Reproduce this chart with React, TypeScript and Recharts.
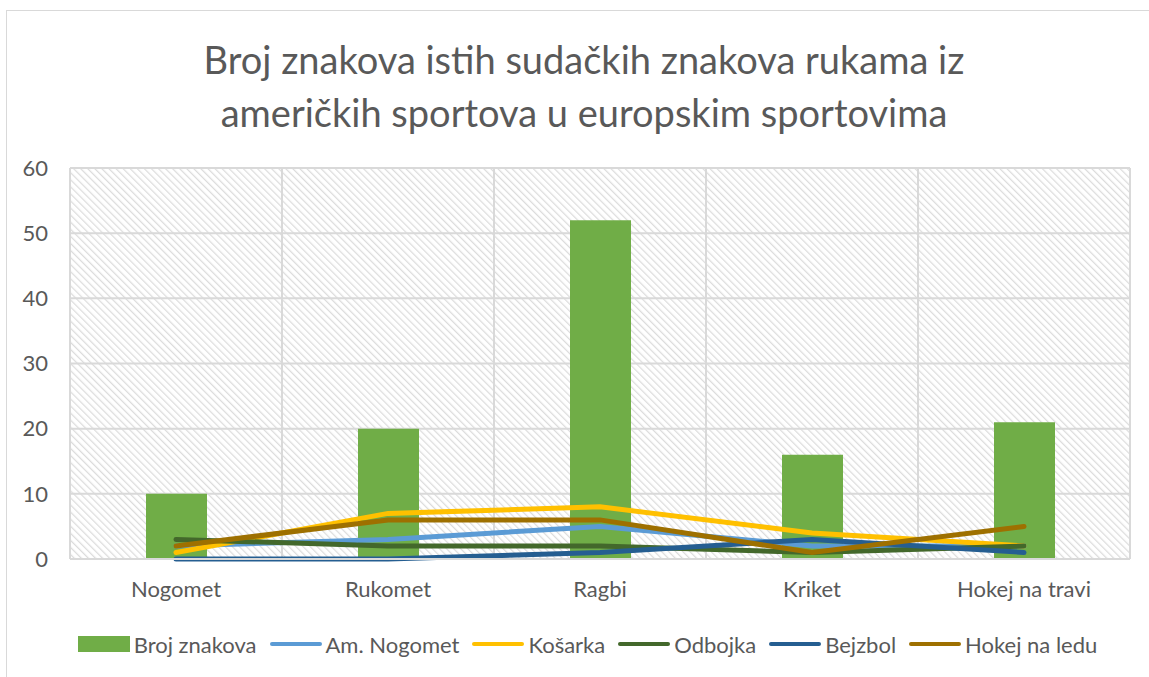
import { ComposedChart, Bar, Line, XAxis, YAxis, CartesianGrid, Legend } from 'recharts';

const categories = ['Nogomet', 'Rukomet', 'Ragbi', 'Kriket', 'Hokej na travi'];
const brojZnakova = [10, 20, 52, 16, 21];
const amNogomet = [2, 3, 5, 2, 2];
const kosarka = [1, 7, 8, 4, 2];
const odbojka = [3, 2, 2, 1, 2];
const bejzbol = [0, 0, 1, 3, 1];
const hokejNaLedu = [2, 6, 6, 1, 5];
const yTicks = [0, 10, 20, 30, 40, 50, 60];

const lineSeries = [
  { key: 'amNogomet', name: 'Am. Nogomet', color: '#5b9bd5' },
  { key: 'kosarka', name: 'Košarka', color: '#ffc000' },
  { key: 'odbojka', name: 'Odbojka', color: '#43682b' },
  { key: 'bejzbol', name: 'Bejzbol', color: '#255e91' },
  { key: 'hokejNaLedu', name: 'Hokej na ledu', color: '#9e7000' },
];

const data = categories.map((name, i) => ({
  name,
  brojZnakova: brojZnakova[i],
  amNogomet: amNogomet[i],
  kosarka: kosarka[i],
  odbojka: odbojka[i],
  bejzbol: bejzbol[i],
  hokejNaLedu: hokejNaLedu[i],
}));

const FONT = 'Lato, "Open Sans", sans-serif';
const TEXT = '#595959';

const renderLegend = () => {
  const items = [{ name: 'Broj znakova', color: '#70ad47', bar: true }, ...lineSeries.map((s) => ({ ...s, bar: false }))];
  return (
    <div
      style={{
        display: 'flex',
        justifyContent: 'center',
        alignItems: 'center',
        fontFamily: FONT,
        fontSize: 22,
        color: TEXT,
        height: 66,
        paddingLeft: 38,
        boxSizing: 'border-box',
      }}
    >
      {items.map((it, i) => (
        <div key={it.name} style={{ display: 'flex', alignItems: 'center', marginRight: i < items.length - 1 ? 13 : 0 }}>
          {it.bar ? (
            <span style={{ width: 52, height: 16, background: it.color, display: 'inline-block', marginRight: 4 }} />
          ) : (
            <span style={{ width: 52, height: 4, borderRadius: 2, background: it.color, display: 'inline-block', marginRight: 4 }} />
          )}
          <span>{it.name}</span>
        </div>
      ))}
    </div>
  );
};

export default function App() {
  return (
    <div style={{ position: 'fixed', left: 0, top: 0, width: 1149, height: 677, overflow: 'hidden', background: '#fff' }}>
      <div
        style={{
          position: 'absolute',
          left: 6,
          top: 10,
          width: 1156,
          height: 680,
          border: '1px solid #d9d9d9',
          boxSizing: 'border-box',
          background: '#fff',
        }}
      >
        <div
          style={{
            position: 'absolute',
            top: 22,
            left: 0,
            width: '100%',
            textAlign: 'center',
            fontFamily: FONT,
            fontSize: 38,
            lineHeight: '53px',
            color: TEXT,
          }}
        >
          Broj znakova istih sudačkih znakova rukama iz
          <br />
          američkih sportova u europskim sportovima
        </div>
        <ComposedChart width={1154} height={666} data={data} margin={{ top: 157, right: 31, bottom: 0, left: 0 }}>
          <defs>
            <pattern id="hatch" width="5" height="5" patternUnits="userSpaceOnUse" patternTransform="rotate(-45)">
              <rect width="5" height="5" fill="#ffffff" />
              <line x1="0" y1="0" x2="0" y2="5" stroke="#dcdcdc" strokeWidth="2.5" />
            </pattern>
          </defs>
          <CartesianGrid
            stroke="#d9d9d9"
            strokeWidth={2}
            fill="url(#hatch)"
            fillOpacity={1}
            verticalCoordinatesGenerator={({ offset }: any) =>
              categories.map((_, i) => offset.left + (i * offset.width) / categories.length).concat(offset.left + offset.width)
            }
          />
          <XAxis
            dataKey="name"
            axisLine={{ stroke: '#d9d9d9', strokeWidth: 2 }}
            tickLine={false}
            tick={{ fill: TEXT, fontSize: 22, fontFamily: FONT }}
            tickMargin={16}
            height={52}
          />
          <YAxis
            domain={[0, 60]}
            ticks={yTicks}
            axisLine={false}
            tickLine={false}
            tick={{ fill: TEXT, fontSize: 22, fontFamily: FONT }}
            width={63}
            tickMargin={16}
          />
          <Legend verticalAlign="bottom" height={66} content={renderLegend} />
          <Bar dataKey="brojZnakova" name="Broj znakova" fill="#70ad47" barSize={61} isAnimationActive={false} />
          {lineSeries.map((s) => (
            <Line
              key={s.key}
              type="linear"
              dataKey={s.key}
              name={s.name}
              stroke={s.color}
              strokeWidth={5}
              strokeLinecap="round"
              dot={false}
              activeDot={false}
              isAnimationActive={false}
            />
          ))}
        </ComposedChart>
      </div>
    </div>
  );
}
